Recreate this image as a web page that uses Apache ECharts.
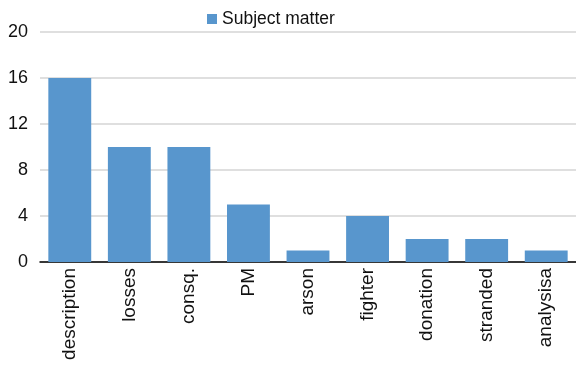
<!DOCTYPE html>
<html>
<head>
<meta charset="utf-8">
<script src="https://cdn.jsdelivr.net/npm/echarts@6/dist/echarts.min.js"></script>
<style>
  html, body { margin: 0; padding: 0; background: #fff; }
  #chart { width: 576px; height: 366px; }
</style>
</head>
<body>
<div id="chart"></div>
<script>
// Counts per subject category
const categories = ['description', 'losses', 'consq.', 'PM', 'arson', 'fighter', 'donation', 'stranded', 'analysisa'];
const subjectMatter = [16, 10, 10, 5, 1, 4, 2, 2, 1];
const yTicks = [0, 4, 8, 12, 16, 20];

const chart = echarts.init(document.getElementById('chart'), null, { renderer: 'canvas' });
chart.setOption({
  animation: false,
  textStyle: { fontFamily: 'Liberation Sans, Arial, sans-serif' },
  legend: {
    top: 5,
    left: 202,
    itemWidth: 10,
    itemHeight: 10,
    itemGap: 6,
    icon: 'rect',
    textStyle: { fontSize: 17.5, color: '#111' },
    data: ['Subject matter']
  },
  grid: { left: 40, right: -1, top: 32, bottom: 104, containLabel: false },
  xAxis: {
    type: 'category',
    data: categories,
    axisLine: { lineStyle: { color: '#000', width: 1.5 } },
    axisTick: { show: false },
    axisLabel: { rotate: 90, fontSize: 19, color: '#111', margin: 6, interval: 0 }
  },
  yAxis: {
    type: 'value',
    min: yTicks[0],
    max: yTicks[yTicks.length - 1],
    interval: 4,
    axisLine: { show: false },
    axisTick: { show: false },
    axisLabel: { fontSize: 18, color: '#111', margin: 12 },
    splitLine: { lineStyle: { color: '#d4d4d4', width: 1.5 } }
  },
  series: [{
    name: 'Subject matter',
    type: 'bar',
    data: subjectMatter,
    barCategoryGap: '28%',
    itemStyle: { color: '#5896CD' }
  }]
});
</script>
</body>
</html>
